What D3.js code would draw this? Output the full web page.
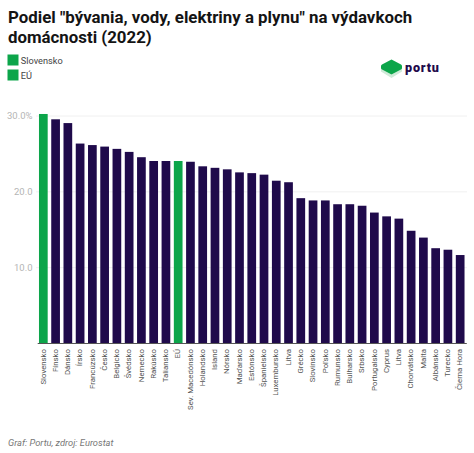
<!DOCTYPE html>
<html><head><meta charset="utf-8">
<script src="https://cdnjs.cloudflare.com/ajax/libs/d3/7.8.5/d3.min.js"></script>
<style>
html,body{margin:0;padding:0;background:#fff}
svg{display:block;font-family:Roboto,sans-serif}
</style></head><body>
<svg id="c" width="474" height="453"></svg>
<script>
const categories = ["Slovensko","Fínsko","Dánsko","Írsko","Francúzsko","Česko","Belgicko","Švédsko","Nemecko","Rakúsko","Taliansko","EÚ","Sev. Macedónsko","Holandsko","Island","Nórsko","Maďarsko","Estónsko","Španielsko","Luxembursko","Litva","Grécko","Slovinsko","Poľsko","Rumunsko","Bulharsko","Srbsko","Portugalsko","Cyprus","Litva","Chorvátsko","Malta","Albánsko","Turecko","Čierna Hora"];
const values = [30.2,29.5,29.0,26.3,26.1,25.9,25.6,25.2,24.5,24.0,24.0,24.0,23.9,23.3,23.1,22.9,22.5,22.4,22.2,21.4,21.2,19.1,18.8,18.8,18.3,18.3,18.1,17.2,16.7,16.4,14.8,13.9,12.5,12.3,11.6];
const highlighted = ["Slovensko","EÚ"];
const legendLabels = ["Slovensko","EÚ"];
const tickValues = [10,20,30];
const titleLines = ['Podiel "bývania, vody, elektriny a plynu" na výdavkoch','domácnosti (2022)'];
const footer = "Graf: Portu, zdroj: Eurostat";

const green="#0ca54a", navy="#1f0a4b";
const svg=d3.select("#c");

svg.selectAll("text.title").data(titleLines).join("text").attr("class","title")
  .attr("x",8).attr("y",(d,i)=>23+i*19.5)
  .attr("font-size",16.85).attr("font-weight",700).attr("fill","#141414").text(d=>d);

const leg=svg.selectAll("g.leg").data(legendLabels).join("g").attr("class","leg")
  .attr("transform",(d,i)=>`translate(7.5,${54.5+i*15})`);
leg.append("rect").attr("width",11).attr("height",11).attr("fill",green);
leg.append("text").attr("x",13.3).attr("y",9).attr("font-size",9.2).attr("fill","#444").text(d=>d);

// logo
const logo=svg.append("g").attr("transform","translate(381,59)");
logo.append("path").attr("d","M0 10 L10.5 15.5 L21 10 L21 12.5 L10.5 19 L0 12.5Z").attr("fill","#cfead8");
logo.append("path").attr("d","M1 5.5 L10.5 0.5 L20 5.5 Q21 6.2 21 7 L21 9 Q21 10 20 10.5 L10.5 15.5 L1 10.5 Q0 10 0 9 L0 7 Q0 6.2 1 5.5Z").attr("fill","#0ca54a");
logo.append("text").attr("x",24).attr("y",13).attr("font-size",12.6).attr("font-weight",900)
  .attr("letter-spacing",0.8).attr("fill",navy).attr("font-family","Roboto").text("portu");

const x=d3.scaleBand().domain(d3.range(categories.length)).range([37.2,466.3]).paddingInner(0.29).paddingOuter(0.145);
const y=d3.scaleLinear().domain([0,30]).range([343,115.5]);

const gy=svg.append("g").attr("transform","translate(36,0)")
  .call(d3.axisLeft(y).tickValues(tickValues).tickSize(0).tickPadding(3.5).tickFormat(d=>d===30?"30.0%":d3.format(".1f")(d)));
gy.select(".domain").remove();
gy.selectAll("text").attr("font-size",9.5).attr("fill","#b5b5b5").attr("font-family","Roboto");
gy.selectAll(".tick").append("line").attr("x1",0).attr("x2",431).attr("stroke","#f0f0f0").attr("stroke-width",1);

svg.selectAll("rect.bar").data(values).join("rect").attr("class","bar")
  .attr("x",(d,i)=>x(i)).attr("width",x.bandwidth())
  .attr("y",d=>y(d)).attr("height",d=>y(0)-y(d))
  .attr("fill",(d,i)=>highlighted.includes(categories[i])?green:navy);

const gx=svg.append("g").attr("transform","translate(0,343)")
  .call(d3.axisBottom(x).tickSize(0).tickFormat(i=>categories[i]));
gx.select(".domain").attr("stroke","#555").attr("stroke-width",1);
gx.selectAll("text").attr("font-size",7.8).attr("fill","#555").attr("font-family","Roboto")
  .attr("text-anchor","end").attr("dx",0).attr("dy",0)
  .attr("transform","translate(2.2,6) rotate(-90)").attr("y",0).attr("x",0);

svg.append("text").attr("x",8).attr("y",446).attr("font-size",9.3).attr("font-style","italic").attr("fill","#777").text(footer);
</script>
</body></html>
